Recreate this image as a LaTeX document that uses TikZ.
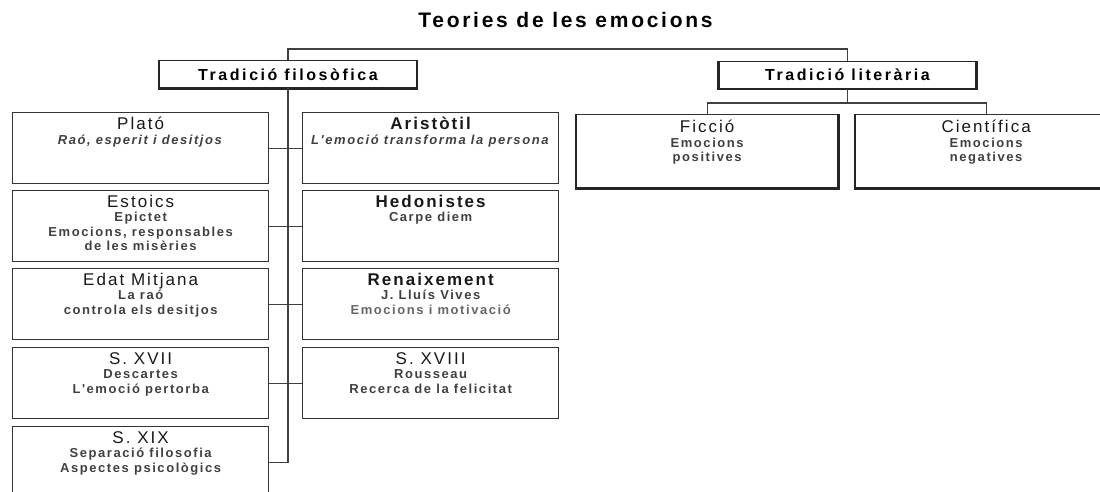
\documentclass[tikz,border=0pt]{standalone}
\usepackage{fontspec}
\setmainfont{Liberation Sans}
\newfontfamily\titlefont[LetterSpace=13]{Liberation Sans}
\newfontfamily\headfont[LetterSpace=12]{Liberation Sans}
\newfontfamily\topfont[LetterSpace=16]{Liberation Sans}
\newfontfamily\linefont[LetterSpace=12]{Liberation Sans}
\newcommand{\boxtext}[2]{\parbox[c][71pt][t]{250pt}{\centering\vspace*{4.5pt}%
  {\headfont\fontsize{17}{19}\selectfont\color{black!90}#1\par}%
  {\linefont\bfseries\fontsize{13}{14.5}\selectfont\color{black!75}#2\par}}}

\begin{document}
\begin{tikzpicture}[x=1pt, y=-1pt,
  pbox/.style={draw=black!80, line width=1.3pt, inner sep=0pt, minimum width=256pt, minimum height=71pt, anchor=north west},
  litbox/.style={pbox, minimum width=261pt, minimum height=73pt},
  tbox/.style={draw=black!85, line width=1pt, inner sep=0pt, minimum width=257pt, minimum height=27pt, font=\topfont\bfseries\fontsize{16}{18}\selectfont},
  shadowline/.style={draw=black!85, line width=2.6pt},
  conn/.style={draw=black!75, line width=1.2pt}]
\useasboundingbox (0,0) rectangle (1100,492);
\clip (0,0) rectangle (1100,492);

\node[font=\titlefont\bfseries\fontsize{21}{25}\selectfont, anchor=base] (title) at (565.5,28) {Teories de les emocions};

\node[tbox] (filo) at (288,74.5) {Tradició filosòfica};
\node[tbox] (lit) at (847.5,75) {Tradició literària};

\node[pbox] (plato) at (12,112) {\boxtext{Plató}{\textit{Raó, esperit i desitjos}}};
\node[pbox] (estoics) at (12,190) {\boxtext{Estoics}{Epictet\\ Emocions, responsables\\ de les misèries}};
\node[pbox] (edat) at (12,268) {\boxtext{Edat Mitjana}{La raó\\ controla els desitjos}};
\node[pbox] (s17) at (12,347) {\boxtext{S. XVII}{Descartes\\ L'emoció pertorba}};
\node[pbox] (s19) at (12,426) {\boxtext{S. XIX}{Separació filosofia\\ Aspectes psicològics}};

\node[pbox] (arist) at (302,112) {\boxtext{\bfseries Aristòtil}{\textit{L'emoció transforma la persona}}};
\node[pbox] (hedon) at (302,190) {\boxtext{\bfseries Hedonistes}{Carpe diem}};
\node[pbox] (renaix) at (302,268) {\boxtext{\bfseries Renaixement}{J. Lluís Vives\\ \color{black!60}Emocions i motivació}};
\node[pbox] (s18) at (302,347) {\boxtext{S. XVIII}{Rousseau\\ Recerca de la felicitat}};

\node[litbox] (ficcio) at (576,114) {\boxtext{Ficció}{Emocions\\ positives}};
\node[litbox] (cient) at (855,114) {\boxtext{Científica}{Emocions\\ negatives}};

\foreach \b in {filo,lit,ficcio,cient}
  \draw[shadowline] (\b.north west) -- (\b.south west) -- (\b.south east) -- (\b.north east);

\coordinate (topbar) at (0,49);
\coordinate (subbar) at (0,103);
\draw[conn] (filo.north) -- (filo.north |- topbar) -| (lit.north);
\draw[conn] (lit.south) -- (lit.south |- subbar);
\draw[conn] (ficcio.north) -- (ficcio.north |- subbar) -| (cient.north);

\draw[conn] (filo.south) |- (s19.east);
\draw[conn] (plato.east) -- (arist.west);
\draw[conn] (estoics.east) -- (hedon.west);
\draw[conn] (edat.east) -- (renaix.west);
\draw[conn] (s17.east) -- (s18.west);
\end{tikzpicture}
\end{document}
